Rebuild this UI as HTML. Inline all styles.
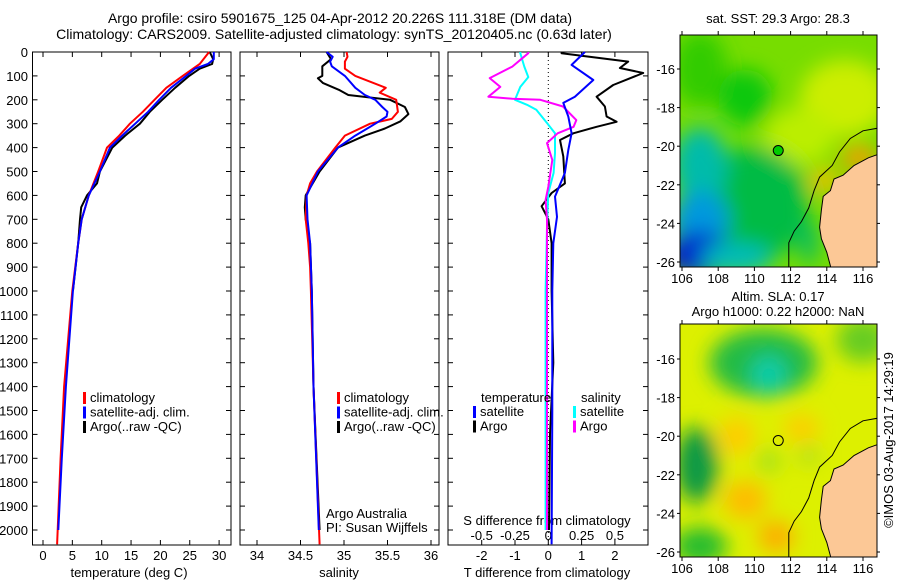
<!DOCTYPE html>
<html><head><meta charset="utf-8"><style>
html,body{margin:0;padding:0;background:#fff;}
svg{display:block;font-family:"Liberation Sans",sans-serif;}
text{font-size:13px;fill:#000;}
text.big{font-size:14px;}
</style></head><body>
<svg id="fig" width="900" height="580" viewBox="0 0 900 580" xmlns="http://www.w3.org/2000/svg">
<defs>
<filter id="blur1" x="-50%" y="-50%" width="200%" height="200%"><feGaussianBlur stdDeviation="10"/></filter>
<clipPath id="clipm1"><rect x="680" y="35" width="197" height="232"/></clipPath>
<clipPath id="clipm2"><rect x="680" y="324" width="197" height="233"/></clipPath>
</defs>
<text class="big" x="340" y="23" text-anchor="middle">Argo profile: csiro 5901675_125 04-Apr-2012 20.226S 111.318E (DM data)</text>
<text class="big" x="334" y="39" text-anchor="middle">Climatology: CARS2009. Satellite-adjusted climatology: synTS_20120405.nc (0.63d later)</text>
<g id="plots"></g>
<text x="778" y="23" text-anchor="middle">sat. SST: 29.3 Argo: 28.3</text>
<text x="778" y="301" text-anchor="middle">Altim. SLA: 0.17</text>
<text x="778" y="316" text-anchor="middle">Argo h1000: 0.22 h2000: NaN</text>
<text transform="translate(893,440) rotate(-90)" text-anchor="middle">©IMOS 03-Aug-2017 14:29:19</text>
</svg>
<script>
// ---- data ----
const depthTicks=[0,100,200,300,400,500,600,700,800,900,1000,1100,1200,1300,1400,1500,1600,1700,1800,1900,2000];
const tempTicks=[0,5,10,15,20,25,30];
const salTicks=[34,34.5,35,35.5,36];
const tdiffTicks=[-2,-1,0,1,2];
const sdiffTicks=[-0.5,-0.25,0,0.25,0.5];
const sdiffLabels=['-0.5','-0.25','0','0.25','0.5'];
const tClimD=[0,50,100,150,200,250,300,350,400,500,600,700,800,1000,1400,1700,2060];
const tClimV=[28.3,26.7,23.8,21,19,17,14.8,13,10.9,9.4,7.8,6.6,6,5,3.6,3,2.4];
const tArgoD=[0,30,50,70,100,150,200,250,300,350,400,500,550,600,650,700,800,1000];
const tArgoV=[28.4,29,28.8,26.7,24.9,22.5,20.3,18.2,16.5,14,11.8,9.7,9.2,7.5,6.5,6.3,6,5.1];
const tSatD=[0,30,50,70,100,150,200,250,300,350,400,500,600,700,800,1000,1400,1700,2000];
const tSatV=[29.1,29.1,28.1,25.9,24.4,21.8,19.8,17.9,15.7,13.5,11.4,9.7,7.8,6.6,6,5.1,3.9,3.2,2.6];
const sClimD=[0,20,40,70,100,150,170,200,250,280,300,350,400,500,550,600,700,800,900,1000,1400,2060];
const sClimV=[35.03,35.04,35.01,35.01,35.13,35.48,35.41,35.6,35.62,35.55,35.3,35.01,34.9,34.69,34.61,34.57,34.56,34.59,34.61,34.62,34.65,34.72];
const sArgoD=[0,30,60,100,110,130,160,180,200,230,260,290,320,350,400,500,600,650,700,800,1000,1400,2000];
const sArgoV=[34.8,34.85,34.75,34.75,34.7,34.76,34.95,35.05,35.53,35.7,35.74,35.65,35.47,35.24,34.93,34.72,34.56,34.55,34.56,34.61,34.63,34.65,34.72];
const sSatD=[0,20,40,60,100,150,180,200,230,250,270,300,350,400,500,600,700,800,1000,1400,2000];
const sSatV=[34.8,34.87,34.84,34.86,35.01,35.13,35.24,35.36,35.44,35.5,35.49,35.36,35.13,34.93,34.7,34.57,34.58,34.61,34.63,34.65,34.71];
const dTSatD=[0,54,117,187,213,270,340,410,506,605,690,800,1000,1500,2060];
const dTSatV=[1.1,0.7,1.35,0.8,0.45,0.6,0.7,0.6,0.5,0.2,0.26,0.15,0.12,0.12,0.1];
const dTArgoD=[0,5,40,67,88,138,187,228,270,292,313,340,368,437,550,590,645,700,800,1000,1300,1600,2000];
const dTArgoV=[0.4,0.4,2.4,2.15,2.85,1.95,1.45,1.7,1.75,2.05,1.45,0.75,0.35,0.45,0.5,0.1,-0.2,0,0.1,0.1,0.15,0.05,0.02];
const dSArgoD=[0,5,61,109,146,187,196,200,228,285,313,340,381,452,564,619,700,1000,2000];
const dSArgoV=[-0.15,-0.15,-0.27,-0.44,-0.36,-0.45,-0.27,-0.06,0.11,0.21,0.19,0.07,-0.01,0.03,0,-0.02,-0.01,-0.01,-0.01];
const dSSatD=[0,5,61,105,146,200,221,242,297,340,423,506,590,730,1000,1500,2000];
const dSSatV=[-0.21,-0.21,-0.18,-0.15,-0.21,-0.25,-0.16,-0.09,-0.01,0.05,0.05,0.04,0,-0.01,-0.02,-0.02,-0.02];
const mapLonTicks=[106,108,110,112,114,116];
const mapLatTicks=[-16,-18,-20,-22,-24,-26];
const argoPos=[111.318,-20.226];

const NS='http://www.w3.org/2000/svg';
const root=document.getElementById('plots');
function mk(tag,attrs,parent){const e=document.createElementNS(NS,tag);for(const k in attrs)e.setAttribute(k,attrs[k]);(parent||root).appendChild(e);return e;}
function txt(x,y,s,anchor,parent){const t=mk('text',{x:x,y:y,'text-anchor':anchor||'start'},parent);t.textContent=s;return t;}
const Y0=52,YB=545;
function yD(d){return Y0+d*0.239;}
function xT(t){return 43+5.87*t;}
function xS(s){return 257+87*(s-34);}
function xdT(t){return 548.3+33.3*t;}
function xdS(s){return 548.3+133.2*s;}
function line(D,V,fx,color,name,g){
  let p='';D.forEach((d,i)=>{p+=(i?'L':'M')+fx(V[i]).toFixed(1)+','+yD(d).toFixed(1);});
  const e=mk('path',{d:p,fill:'none',stroke:color,'stroke-width':2,'stroke-linejoin':'round'},g);
  
  
}
function frame(x0,x1,name){
  const g=mk('g',{});
  
  
  mk('rect',{x:x0,y:Y0,width:x1-x0,height:YB-Y0,fill:'none',stroke:'#000','stroke-width':1},g);
  depthTicks.forEach(d=>{mk('line',{x1:x0,x2:x0+5,y1:yD(d),y2:yD(d),stroke:'#000'},g);mk('line',{x1:x1-5,x2:x1,y1:yD(d),y2:yD(d),stroke:'#000'},g);});
  return g;
}
// panel 1
const g1=frame(32.5,231,'temperature-panel');
depthTicks.forEach(d=>{const t=txt(28,yD(d)+5,String(d),'end',g1);});
tempTicks.forEach(v=>{mk('line',{x1:xT(v),x2:xT(v),y1:YB,y2:YB-5,stroke:'#000'},g1);mk('line',{x1:xT(v),x2:xT(v),y1:Y0,y2:Y0+5,stroke:'#000'},g1);const t=txt(xT(v),560,String(v),'middle',g1);});
txt(129,577,'temperature (deg C)','middle',g1);
line(tArgoD,tArgoV,xT,'#000','temp-argo-line',g1);
line(tClimD,tClimV,xT,'#f00','temp-climatology-line',g1);
line(tSatD,tSatV,xT,'#00f','temp-satellite-line',g1);
function legend(x,y,items,g){items.forEach((it,i)=>{mk('rect',{x:x,y:y+i*14.5-10,width:3,height:12,fill:it[0]},g);txt(x+7,y+i*14.5,it[1],'start',g);});}
legend(83,402,[['#f00','climatology'],['#00f','satellite-adj. clim.'],['#000','Argo(..raw -QC)']],g1);
// panel 2
const g2=frame(240,439,'salinity-panel');
salTicks.forEach(v=>{mk('line',{x1:xS(v),x2:xS(v),y1:YB,y2:YB-5,stroke:'#000'},g2);mk('line',{x1:xS(v),x2:xS(v),y1:Y0,y2:Y0+5,stroke:'#000'},g2);const t=txt(xS(v),560,String(v),'middle',g2);});
txt(339,577,'salinity','middle',g2);
line(sArgoD,sArgoV,xS,'#000','salinity-argo-line',g2);
line(sClimD,sClimV,xS,'#f00','salinity-climatology-line',g2);
line(sSatD,sSatV,xS,'#00f','salinity-satellite-line',g2);
legend(337,402,[['#f00','climatology'],['#00f','satellite-adj. clim.'],['#000','Argo(..raw -QC)']],g2);
txt(326,518,'Argo Australia','start',g2);
txt(326,532,'PI: Susan Wijffels','start',g2);
// panel 3
const g3=frame(448,648,'difference-panel');
mk('line',{x1:xdT(0),x2:xdT(0),y1:Y0,y2:YB,stroke:'#000','stroke-dasharray':'1,3'},g3);
tdiffTicks.forEach(v=>{mk('line',{x1:xdT(v),x2:xdT(v),y1:YB,y2:YB-5,stroke:'#000'},g3);mk('line',{x1:xdT(v),x2:xdT(v),y1:Y0,y2:Y0+5,stroke:'#000'},g3);const t=txt(xdT(v),560,String(v),'middle',g3);});
sdiffTicks.forEach((v,i)=>{const t=txt(xdS(v),540,sdiffLabels[i],'middle',g3);});
txt(547,525,'S difference from climatology','middle',g3);
txt(547,577,'T difference from climatology','middle',g3);
line(dTArgoD,dTArgoV,xdT,'#000','tdiff-argo-line',g3);
line(dSSatD,dSSatV,xdS,'#0ff','sdiff-satellite-line',g3);
line(dSArgoD,dSArgoV,xdS,'#f0f','sdiff-argo-line',g3);
line(dTSatD,dTSatV,xdT,'#00f','tdiff-satellite-line',g3);
txt(481,402,'temperature','start',g3);
txt(581,402,'salinity','start',g3);
legend(473,416,[['#00f','satellite'],['#000','Argo']],g3);
legend(573,416,[['#0ff','satellite'],['#f0f','Argo']],g3);
// maps
function makeMap(y0,y1,latM16,latM26,clip,name,blobs,base){
  const g=mk('g',{});
  
  
  const lx=l=>682+18.1*(l-106);
  const ly=l=>latM16+(latM26-latM16)/10*(-16-l);
  const cg=mk('g',{'clip-path':'url(#'+clip+')'},g);
  mk('rect',{x:680,y:y0,width:197,height:y1-y0,fill:base},cg);
  const bg=mk('g',{filter:'url(#blur1)'},cg);
  blobs.forEach(b=>mk('ellipse',{cx:lx(b[0]),cy:ly(b[1]),rx:b[2]*18,ry:b[3]*19,fill:b[4]},bg));
  const land=[[116.9,-20.4],[116.3,-20.6],[115.5,-21.0],[114.9,-21.5],[114.4,-21.7],[114.2,-22.3],[113.8,-22.6],[113.7,-23.3],[113.6,-24.2],[113.7,-24.8],[114.0,-25.5],[114.2,-26.2],[114.3,-26.6],[117,-26.6]];
  mk('path',{d:'M'+land.map(p=>lx(p[0]).toFixed(1)+','+ly(p[1]).toFixed(1)).join('L')+'Z',fill:'#fcc896',stroke:'#000','stroke-width':1},cg);
  const shelf=[[116.9,-19.05],[116,-19.2],[115.3,-19.6],[114.7,-20.3],[114.3,-21.0],[113.6,-21.6],[113.3,-22.3],[113.0,-23.2],[112.6,-23.9],[112.2,-24.4],[111.9,-25.0],[111.9,-26.6]];
  mk('path',{d:'M'+shelf.map(p=>lx(p[0]).toFixed(1)+','+ly(p[1]).toFixed(1)).join('L'),fill:'none',stroke:'#000','stroke-width':1},cg);
  mk('rect',{x:680,y:y0,width:197,height:y1-y0,fill:'none',stroke:'#000'},g);
  mapLonTicks.forEach(v=>{mk('line',{x1:lx(v),x2:lx(v),y1:y0,y2:y0-4,stroke:'#000'},g);mk('line',{x1:lx(v),x2:lx(v),y1:y1,y2:y1+4,stroke:'#000'},g);const t=txt(lx(v),y1+16,String(v),'middle',g);});
  mapLatTicks.forEach(v=>{mk('line',{x1:680,x2:677,y1:ly(v),y2:ly(v),stroke:'#000'},g);mk('line',{x1:877,x2:880,y1:ly(v),y2:ly(v),stroke:'#000'},g);const t=txt(675,ly(v)+5,String(v),'end',g);});
  return {g,lx,ly};
}
const m1=makeMap(35,267,69,262,'clipm1','sst-map',[
 [107,-16,1.5,2,'#33cc00'],[115,-17.5,2.5,2,'#ccee00'],[112.5,-19.5,2,1.5,'#bbee00'],[109.5,-17.5,1.5,1.5,'#11c811'],
 [110,-23,3,3,'#00bb44'],[107,-21,1.5,2,'#00bbaa'],[107,-23.8,1.6,1.5,'#0099dd'],[106.9,-25.6,1.8,1.2,'#0022cc'],
 [109,-25.8,2,0.8,'#00bbbb'],[115.8,-20.6,1,0.6,'#ff9900'],[113.9,-21.8,0.8,0.6,'#ffbb00'],[113,-25,0.5,1.2,'#00bb66']],'#77dd00');
const m2=makeMap(324,557,359,552,'clipm2','sla-map',[
 [110.5,-16.2,3,1.8,'#22bb44'],[110.8,-16.8,1,1,'#11ccaa'],[106.8,-21.5,1.2,2,'#119944'],[107,-25.7,1.5,1,'#22bb33'],
 [116,-15,1.5,1.2,'#66cc22'],[109.5,-23.3,1.2,1,'#ffbb00'],[111.2,-25.2,1,0.8,'#ffaa00'],[109,-20,1,1,'#ffcc00'],[112.6,-19.6,1,0.7,'#ffcc00'],[110.8,-21.3,0.6,0.6,'#99dd22'],[113,-21,0.6,0.5,'#aadd22']],'#ddf000');
let c1=mk('circle',{cx:m1.lx(argoPos[0]),cy:m1.ly(argoPos[1]),r:5,fill:'#00cc00',stroke:'#000'},m1.g);


let c2=mk('circle',{cx:m2.lx(argoPos[0]),cy:m2.ly(argoPos[1]),r:5,fill:'none',stroke:'#000'},m2.g);


</script>
</body></html>
